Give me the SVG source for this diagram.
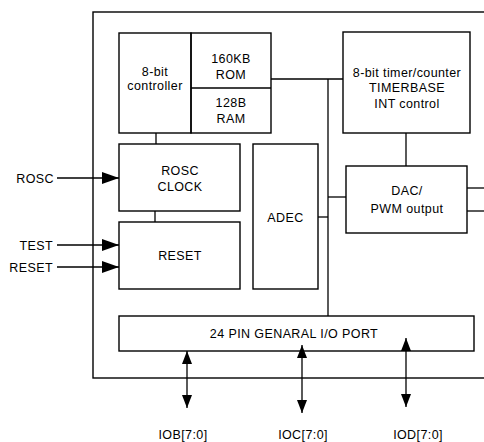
<svg xmlns="http://www.w3.org/2000/svg" width="484" height="442" viewBox="0 0 484 442">
<style>
.box{fill:none;stroke:#000;stroke-width:1.4}
.ln{fill:none;stroke:#000;stroke-width:1.3}
text{font-family:"Liberation Sans",Arial,sans-serif;font-size:12.5px;letter-spacing:0.4px;fill:#000}
.c{text-anchor:middle}
.r{text-anchor:end}
</style>
<defs>
<marker id="ah" viewBox="0 0 13 10" refX="13" refY="5" markerWidth="13" markerHeight="10" markerUnits="userSpaceOnUse" orient="auto-start-reverse"><path d="M0,0 L13,5 L0,10 z" fill="#000"/></marker>
<marker id="ahL" viewBox="0 0 17 12" refX="17" refY="6" markerWidth="17" markerHeight="12" markerUnits="userSpaceOnUse" orient="auto"><path d="M0,0 L17,6 L0,12 z" fill="#000"/></marker>
</defs>
<rect id="chip" class="box" x="93" y="12" width="400" height="366"/>
<g id="connectors">
<line class="ln" x1="156" y1="133" x2="156" y2="144"/>
<line class="ln" x1="155" y1="211" x2="155" y2="222"/>
<line class="ln" x1="271" y1="79" x2="343" y2="79"/>
<line class="ln" x1="328" y1="79" x2="328" y2="316"/>
<line class="ln" x1="318" y1="217" x2="328" y2="217"/>
<line class="ln" x1="328" y1="197" x2="346" y2="197"/>
<line class="ln" x1="406" y1="133" x2="406" y2="166"/>
<line class="ln" x1="467" y1="188" x2="484" y2="188"/>
<line class="ln" x1="467" y1="211" x2="484" y2="211"/>
<line class="ln" x1="57" y1="178" x2="119" y2="178" marker-end="url(#ahL)"/>
<line class="ln" x1="57" y1="245" x2="119" y2="245" marker-end="url(#ahL)"/>
<line class="ln" x1="57" y1="267" x2="119" y2="267" marker-end="url(#ahL)"/>
<line class="ln" x1="187" y1="351" x2="187" y2="408" marker-start="url(#ah)" marker-end="url(#ah)"/>
<line class="ln" x1="302" y1="345" x2="302" y2="413" marker-start="url(#ah)" marker-end="url(#ah)"/>
<line class="ln" x1="406" y1="338" x2="406" y2="407" marker-start="url(#ah)" marker-end="url(#ah)"/>
</g>
<g id="controller">
<rect class="box" x="119" y="33" width="72" height="100"/>
<text class="c" x="155" y="75.5">8-bit</text>
<text class="c" x="155" y="90">controller</text>
</g>
<g id="memory">
<rect class="box" x="191" y="33" width="80" height="100"/>
<line class="ln" x1="191" y1="88" x2="271" y2="88"/>
<text class="c" x="231" y="62.5">160KB</text>
<text class="c" x="231" y="78.5">ROM</text>
<text class="c" x="231" y="106.5">128B</text>
<text class="c" x="231" y="122.5">RAM</text>
</g>
<g id="timer">
<rect class="box" x="343" y="32" width="127" height="101"/>
<text class="c" x="407" y="76.5">8-bit timer/counter</text>
<text class="c" x="407" y="91.5">TIMERBASE</text>
<text class="c" x="407" y="107.5">INT control</text>
</g>
<g id="rosc">
<rect class="box" x="119" y="144" width="121" height="67"/>
<text class="c" x="180" y="174.5">ROSC</text>
<text class="c" x="180" y="190.5">CLOCK</text>
</g>
<g id="reset">
<rect class="box" x="119" y="222" width="121" height="67"/>
<text class="c" x="180" y="259.5">RESET</text>
</g>
<g id="adec">
<rect class="box" x="253" y="144" width="65" height="145"/>
<text class="c" x="285.5" y="221.5">ADEC</text>
</g>
<g id="dac">
<rect class="box" x="346" y="166" width="121" height="67"/>
<text class="c" x="407" y="194.5">DAC/</text>
<text class="c" x="407" y="212.5">PWM output</text>
</g>
<g id="io">
<rect class="box" x="119" y="316" width="355" height="35"/>
<text class="c" x="294" y="337.5">24 PIN GENARAL I/O PORT</text>
</g>
<g id="labels">
<text class="r" x="54" y="182.5">ROSC</text>
<text class="r" x="53" y="249.5">TEST</text>
<text class="r" x="53" y="271.5">RESET</text>
<text class="c" x="183" y="439">IOB[7:0]</text>
<text class="c" x="303" y="439">IOC[7:0]</text>
<text class="c" x="418" y="439">IOD[7:0]</text>
</g>
</svg>
